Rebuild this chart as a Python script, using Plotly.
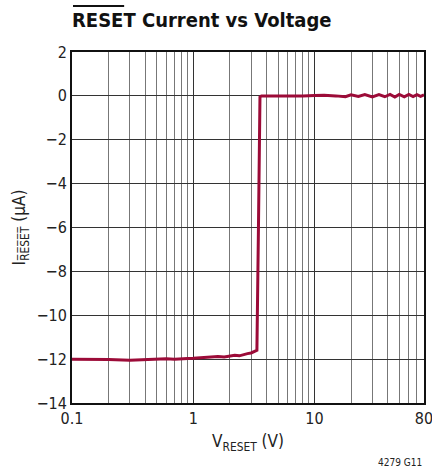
import plotly.graph_objects as go

# Data
v_reset = [0.1, 0.15, 0.2, 0.3, 0.4, 0.5, 0.6, 0.7, 0.8, 0.9, 1.0, 1.2, 1.4, 1.6, 1.8, 2.0,
           2.2, 2.4, 2.6, 2.8, 3.0, 3.2, 3.35, 3.45, 3.55, 3.65, 4.0, 5.0, 6.0, 8.0, 10.0,
           12.0, 15.0, 18.0, 20.0, 23.0, 26.0, 30.0, 34.0, 38.0, 42.0, 46.0, 50.0, 55.0,
           60.0, 65.0, 70.0, 75.0, 80.0]
i_reset = [-12.0, -12.0, -12.02, -12.05, -12.02, -12.0, -11.98, -12.0, -12.0, -11.97, -11.96,
           -11.93, -11.92, -11.88, -11.9, -11.85, -11.82, -11.85, -11.78, -11.75, -11.72,
           -11.65, -11.6, -6.0, -0.05, 0.0, 0.0, -0.02, 0.0, 0.0, 0.02, 0.03, 0.0, -0.04,
           0.05, -0.03, 0.06, -0.05, 0.06, -0.04, 0.07, -0.05, 0.07, -0.04, 0.07, -0.03,
           0.06, -0.02, 0.05]

x_tickvals = [0.1, 1, 10, 80]
x_ticktext = ["0.1", "1", "10", "80"]
x_minor = [0.2, 0.3, 0.4, 0.5, 0.6, 0.7, 0.8, 0.9, 2, 3, 4, 5, 6, 7, 8, 9,
           20, 30, 40, 50, 60, 70]
y_tickvals = [2, 0, -2, -4, -6, -8, -10, -12, -14]

FONT = "Liberation Sans Narrow, DejaVu Sans Condensed, Arial Narrow, sans-serif"
OL = "\u0305"
def overline(s):
    return "".join(c + OL for c in s)

fig = go.Figure()
fig.add_trace(go.Scatter(x=v_reset, y=i_reset, mode="lines",
                         line=dict(color="#9c0b38", width=3), showlegend=False,
                         hoverinfo="skip"))

fig.update_layout(
    width=432, height=472,
    margin=dict(l=72, r=8, t=52, b=69, autoexpand=False),
    paper_bgcolor="white", plot_bgcolor="white",
    font=dict(family=FONT, size=16, color="#222"),
    title=dict(text="<b>RESET Current vs Voltage</b>", x=72/432, xanchor="left",
               y=1 - 27/472, yanchor="bottom", font=dict(size=20, family=FONT, color="#111")),
)
fig.update_xaxes(type="log", range=[-1, 1.90309], tickvals=x_tickvals, ticktext=x_ticktext,
                 showgrid=True, gridcolor="#333", gridwidth=1, automargin=False,
                 ticklabeloverflow="allow",
                 minor=dict(tickvals=x_minor, showgrid=True, gridcolor="#777", gridwidth=1, ticks=""),
                 showline=True, linecolor="#111", linewidth=2, mirror=True, ticks="",
                 title=dict(text="V<sub>RESET</sub> (V)", standoff=8, font=dict(size=17)),
                 zeroline=False)
fig.update_yaxes(range=[-14, 2], tickvals=y_tickvals, showgrid=True, gridcolor="#333",
                 gridwidth=1, showline=True, linecolor="#111", linewidth=2, mirror=True,
                 ticks="", zeroline=False, automargin=False, ticklabeloverflow="allow",
                 title=dict(text="I<sub>" + overline("RESET") + "</sub> (μA)", standoff=6,
                            font=dict(size=17)))

# overline above RESET in the title
fig.add_shape(type="line", xref="paper", yref="paper",
              x0=(73-72)/351, x1=(124-72)/351, y0=1 + (52-6)/351, y1=1 + (52-6)/351,
              line=dict(color="#111", width=2))

fig.add_annotation(text="4279 G11", xref="paper", yref="paper", x=1.0, y=-(462-403)/351,
                   xanchor="right", yanchor="middle", showarrow=False,
                   font=dict(size=10, family=FONT, color="#222"))

fig.write_html("out.html", config={"displayModeBar": False},
               post_script="document.body.style.margin='0';")
